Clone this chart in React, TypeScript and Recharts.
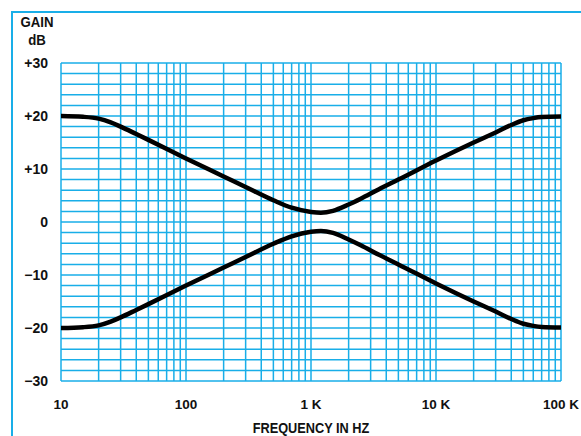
import { LineChart, Line, XAxis, YAxis, CartesianGrid } from 'recharts'

// frequency points (Hz)
const freqs = [10, 15, 20, 25, 30, 40, 50, 100, 200, 300, 500, 700, 1000, 1200, 1500, 2000, 2500, 3500, 5000, 10000, 20000, 30000, 40000, 50000, 60000, 70000, 100000]
// boost curve (dB)
const upperGain = [20, 19.85, 19.5, 18.8, 18.0, 16.6, 15.5, 12.0, 8.6, 6.6, 4.1, 2.7, 1.9, 1.75, 2.1, 3.3, 4.4, 6.2, 8.0, 11.6, 15.0, 16.9, 18.3, 19.2, 19.6, 19.8, 19.9]
// cut curve (dB)
const lowerGain = [-20, -19.85, -19.5, -18.8, -18.0, -16.6, -15.5, -12.0, -8.6, -6.6, -4.1, -2.7, -1.85, -1.7, -2.05, -3.3, -4.4, -6.2, -8.0, -11.6, -15.0, -16.9, -18.3, -19.2, -19.6, -19.8, -19.9]

const xGridTicks = [
  10, 20, 30, 40, 50, 60, 70, 80, 90,
  100, 200, 300, 400, 500, 600, 700, 800, 900,
  1000, 2000, 3000, 4000, 5000, 6000, 7000, 8000, 9000,
  10000, 20000, 30000, 40000, 50000, 60000, 70000, 80000, 90000,
  100000,
]
const yGridTicks = [-30, -28, -26, -24, -22, -20, -18, -16, -14, -12, -10, -8, -6, -4, -2, 0, 2, 4, 6, 8, 10, 12, 14, 16, 18, 20, 22, 24, 26, 28, 30]

const xLabels: Record<number, string> = { 10: '10', 100: '100', 1000: '1 K', 10000: '10 K', 100000: '100 K' }
const yLabels: Record<number, string> = { 30: '+30', 20: '+20', 10: '+10', 0: '0', [-10]: '\u221210', [-20]: '\u221220', [-30]: '\u221230' }

const font = "'Liberation Sans', Arial, sans-serif"
const cyan = '#19aee8'

export default function App() {
  const data = freqs.map((f, i) => ({ f, upper: upperGain[i], lower: lowerGain[i] }))

  return (
    <div style={{ position: 'absolute', left: 0, top: 0, width: 581, height: 436, overflow: 'hidden', background: '#fff', fontFamily: font, color: '#111' }}>
      <div style={{ position: 'absolute', left: 11, top: 11, width: 600, height: 500, borderLeft: `2px solid ${cyan}`, borderTop: `2px solid ${cyan}` }} />
      <div style={{ position: 'absolute', left: 12, top: 13, width: 50, textAlign: 'center', fontWeight: 700, fontSize: 15, lineHeight: '18px', transform: 'scaleX(0.88)' }}>
        GAIN<br />dB
      </div>
      <LineChart width={581} height={436} data={data} margin={{ top: 63, right: 20, bottom: 0, left: 0 }}>
        <CartesianGrid stroke={cyan} strokeWidth={1.5} />
        <XAxis
          dataKey="f"
          type="number"
          scale="log"
          domain={[10, 100000]}
          ticks={xGridTicks}
          interval={0}
          allowDataOverflow
          height={55}
          axisLine={false}
          tickLine={false}
          tickSize={0}
          tickMargin={18}
          tickFormatter={(v: number) => xLabels[v] ?? ''}
          tick={{ fill: '#111', fontSize: 13.5, fontWeight: 700, fontFamily: font }}
        />
        <YAxis
          type="number"
          domain={[-30, 30]}
          ticks={yGridTicks}
          interval={0}
          width={61}
          axisLine={false}
          tickLine={false}
          tickSize={0}
          tickMargin={13}
          tickFormatter={(v: number) => yLabels[v] ?? ''}
          tick={{ fill: '#111', fontSize: 14, fontWeight: 700, fontFamily: font }}
        />
        <Line type="monotone" dataKey="upper" stroke="#000" strokeWidth={4.5} dot={false} isAnimationActive={false} />
        <Line type="monotone" dataKey="lower" stroke="#000" strokeWidth={4.5} dot={false} isAnimationActive={false} />
      </LineChart>
      <div style={{ position: 'absolute', left: 211, width: 200, top: 420, textAlign: 'center', fontWeight: 700, fontSize: 15, lineHeight: '15px', whiteSpace: 'nowrap', transform: 'scaleX(0.85)' }}>
        FREQUENCY IN HZ
      </div>
    </div>
  )
}
